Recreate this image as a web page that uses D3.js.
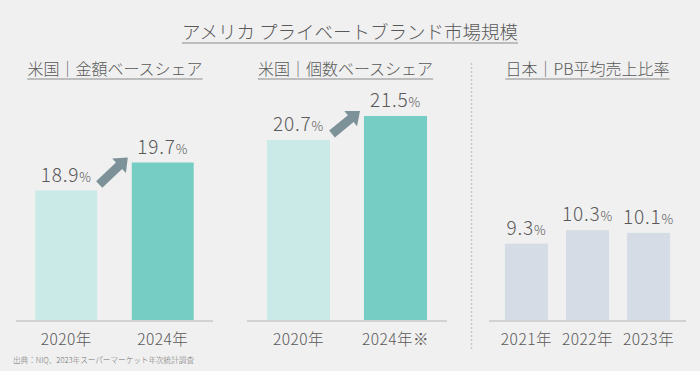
<!DOCTYPE html>
<html>
<head>
<meta charset="utf-8">
<script src="https://cdn.jsdelivr.net/npm/d3@7"></script>
<style>
  html, body { margin: 0; padding: 0; background: #f0f0f0; }
  svg { display: block; font-family: "Noto Sans CJK JP", "Noto Sans", sans-serif; font-weight: 300; }
</style>
</head>
<body>
<svg id="chart" width="700" height="371"></svg>
<script>
const title = 'アメリカ プライベートブランド市場規模'
const source = '出典：NIQ、2023年スーパーマーケット年次統計調査'

const panel1Title = '米国｜金額ベースシェア'
const panel1Categories = ['2020年', '2024年']
const panel1Values = [18.9, 19.7]

const panel2Title = '米国｜個数ベースシェア'
const panel2Categories = ['2020年', '2024年※']
const panel2Values = [20.7, 21.5]

const panel3Title = '日本｜PB平均売上比率'
const panel3Categories = ['2021年', '2022年', '2023年']
const panel3Values = [9.3, 10.3, 10.1]

const width = 700
const height = 371
const baseline = 320
const textColor = '#595959'

const svg = d3.select('#chart')

svg.append('rect')
  .attr('width', width)
  .attr('height', height)
  .attr('fill', '#f0f0f0')

// underlined heading helper
function heading(text, cx, y, size) {
  const t = svg.append('text')
    .attr('x', cx)
    .attr('y', y)
    .attr('text-anchor', 'middle')
    .attr('font-size', size)
    .attr('fill', textColor)
    .text(text)
  const b = t.node().getBBox()
  svg.append('line')
    .attr('x1', b.x)
    .attr('x2', b.x + b.width)
    .attr('y1', y + 4)
    .attr('y2', y + 4)
    .attr('stroke', '#8a8a8a')
    .attr('stroke-width', 1)
}

heading(title, 350, 39, 18.5)

// dotted separator
svg.append('line')
  .attr('x1', 471.5).attr('x2', 471.5)
  .attr('y1', 63).attr('y2', 350)
  .attr('stroke', '#c6c6c6')
  .attr('stroke-width', 1.5)
  .attr('stroke-dasharray', '2,2')

function arrow(g, x1, y1, x2, y2) {
  const dx = x2 - x1, dy = y2 - y1
  const len = Math.hypot(dx, dy)
  const ux = dx / len, uy = dy / len
  const nx = -uy, ny = ux
  const shaft = 4.5, head = 10, headLen = 12
  const bx = x2 - ux * headLen, by = y2 - uy * headLen
  const pts = [
    [x1 + nx * shaft, y1 + ny * shaft],
    [bx + nx * shaft, by + ny * shaft],
    [bx + nx * head, by + ny * head],
    [x2, y2],
    [bx - nx * head, by - ny * head],
    [bx - nx * shaft, by - ny * shaft],
    [x1 - nx * shaft, y1 - ny * shaft],
  ]
  g.append('path')
    .attr('d', d3.line()(pts) + 'Z')
    .attr('fill', '#7d9199')
}

function panel(opts) {
  const { name, categories, values, range, padInner, padOuter, domainMin, pxPerUnit, colors, showArrow } = opts
  const g = svg.append('g').attr('id', name)

  const x = d3.scaleBand()
    .domain(categories)
    .range(range)
    .paddingInner(padInner)
    .paddingOuter(padOuter)

  const vmax = d3.max(values)
  const y = d3.scaleLinear()
    .domain([domainMin, vmax])
    .range([baseline, baseline - pxPerUnit * (vmax - domainMin)])

  g.selectAll('rect.bar')
    .data(values)
    .join('rect')
    .attr('class', 'bar')
    .attr('x', (d, i) => x(categories[i]))
    .attr('y', d => y(d))
    .attr('width', x.bandwidth())
    .attr('height', d => baseline - y(d))
    .attr('fill', (d, i) => colors[i])

  // baseline axis
  g.append('line')
    .attr('x1', range[0]).attr('x2', range[1])
    .attr('y1', baseline + 1).attr('y2', baseline + 1)
    .attr('stroke', '#d2d2d2')
    .attr('stroke-width', 2)

  // value labels
  const labels = g.selectAll('text.value')
    .data(values)
    .join('text')
    .attr('class', 'value')
    .attr('x', (d, i) => x(categories[i]) + x.bandwidth() / 2)
    .attr('y', d => y(d) - 9)
    .attr('text-anchor', 'middle')
    .attr('fill', textColor)
    .attr('letter-spacing', 0.8)
  labels.append('tspan').attr('font-size', 19).text(d => d.toFixed(1))
  labels.append('tspan').attr('font-size', 13).text('%')

  // category labels
  g.selectAll('text.cat')
    .data(categories)
    .join('text')
    .attr('class', 'cat')
    .attr('x', d => x(d) + x.bandwidth() / 2)
    .attr('y', 345)
    .attr('text-anchor', 'middle')
    .attr('font-size', 15.5)
    .attr('fill', textColor)
    .attr('letter-spacing', 0.5)
    .text(d => d)

  if (showArrow) {
    const x1 = x(categories[0]) + x.bandwidth() + 2
    const x2 = x(categories[1]) - 4
    arrow(g, x1, y(values[0]) - 6, x2, y(values[1]) - 5)
  }
}

panel({
  name: 'p1', categories: panel1Categories, values: panel1Values,
  range: [16, 213], padInner: 0.358, padOuter: 0.2,
  domainMin: 15.2, pxPerUnit: 35,
  colors: ['#c9eae6', '#76cdc4'], showArrow: true,
})
panel({
  name: 'p2', categories: panel2Categories, values: panel2Values,
  range: [247, 447], padInner: 0.35, padOuter: 0.206,
  domainMin: 14.7, pxPerUnit: 30,
  colors: ['#c9eae6', '#76cdc4'], showArrow: true,
})
panel({
  name: 'p3', categories: panel3Categories, values: panel3Values,
  range: [489, 686], padInner: 0.295, padOuter: 0.26,
  domainMin: 3.6, pxPerUnit: 13.4,
  colors: ['#d5dce5', '#d5dce5', '#d5dce5'], showArrow: false,
})

heading(panel1Title, 115, 75, 16)
heading(panel2Title, 345.5, 75, 16)
heading(panel3Title, 587.5, 75, 16)

svg.append('text')
  .attr('x', 13)
  .attr('y', 363)
  .attr('font-size', 7.6)
  .attr('fill', '#707070')
  .text(source)
</script>
</body>
</html>
